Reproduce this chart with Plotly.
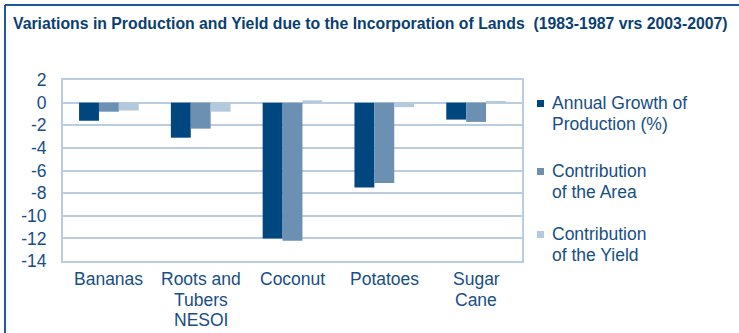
import plotly.graph_objects as go

# Crops and the three measured components (%)
categories = ["Bananas", "Roots and<br>Tubers<br>NESOI", "Coconut", "Potatoes", "Sugar<br>Cane"]
production_growth = [-1.6, -3.1, -12.0, -7.5, -1.5]
area_contribution = [-0.8, -2.3, -12.2, -7.1, -1.7]
yield_contribution = [-0.7, -0.8, 0.2, -0.4, 0.1]

series_names = ["Annual Growth of<br>Production (%)",
                "Contribution<br>of the Area",
                "Contribution<br>of the Yield"]
series_colors = ["#00467f", "#6b90b2", "#b5c9dc"]
y_ticks = [2, 0, -2, -4, -6, -8, -10, -12, -14]

title_text = "Variations in Production and Yield due to the Incorporation of Lands  (1983-1987 vrs 2003-2007)"

W, H = 739, 333
L, R, T, B = 63, 217, 80, 72
PW, PH = W - L - R, H - T - B

def px_x(px):
    return (px - L) / PW

def px_y(py):
    return (H - B - py) / PH

TEXT = "#174e86"
FONT = "Liberation Sans, Arial, Helvetica, sans-serif"

fig = go.Figure()
for name, vals, col in zip(series_names, [production_growth, area_contribution, yield_contribution], series_colors):
    fig.add_trace(go.Bar(x=categories, y=vals, name=name, marker=dict(color=col, line=dict(width=0)),
                         showlegend=False))

fig.update_layout(
    width=W, height=H,
    margin=dict(l=L, r=R, t=T, b=B),
    paper_bgcolor="white", plot_bgcolor="white",
    barmode="group", bargap=0.35, bargroupgap=0,
    font=dict(family=FONT, size=17.5, color=TEXT),
    xaxis=dict(showgrid=False, zeroline=False, showline=True, linecolor="#b9cde0", linewidth=2,
               mirror=True, ticks="", automargin=False, showticklabels=False, fixedrange=True),
    yaxis=dict(range=[-14, 2], tickvals=y_ticks, ticktext=[str(v) for v in y_ticks],
               showgrid=True, gridcolor="#b9cde0", gridwidth=2, zeroline=False,
               showline=True, linecolor="#b9cde0", linewidth=2, mirror=True, automargin=False,
               ticks="", ticklabelstandoff=11, tickfont=dict(size=17.5, color=TEXT)),
)

# Category labels under each group, one line at a time for tighter spacing
cat_line_y = [279, 300, 320]
for cat in categories:
    for i, part in enumerate(cat.split("<br>")):
        fig.add_annotation(text=part, xref="x", yref="paper", x=cat, y=px_y(cat_line_y[i]),
                           xanchor="center", yanchor="middle", showarrow=False,
                           font=dict(family=FONT, size=17.5, color=TEXT))

# Frame along the top and left edges
fig.add_shape(type="line", xref="paper", yref="paper", x0=px_x(5), x1=px_x(W + 5), y0=px_y(5), y1=px_y(5),
              line=dict(color="#1f5a96", width=2))
fig.add_shape(type="line", xref="paper", yref="paper", x0=px_x(5), x1=px_x(5), y0=px_y(5), y1=px_y(H + 5),
              line=dict(color="#1f5a96", width=2))

# Title
fig.add_annotation(text="<b>" + title_text + "</b>", xref="paper", yref="paper",
                   x=px_x(11), y=px_y(24), xanchor="left", yanchor="middle", showarrow=False,
                   font=dict(family=FONT, size=15.8, color="#0b3f74"))

# Legend drawn beside the plot
legend_tops = [103, 171, 234]
line_step = 21
for name, col, y0 in zip(series_names, series_colors, legend_tops):
    fig.add_shape(type="rect", xref="paper", yref="paper",
                  x0=px_x(537), x1=px_x(544), y0=px_y(y0 - 3), y1=px_y(y0 + 4),
                  fillcolor=col, line=dict(width=0))
    for i, part in enumerate(name.split("<br>")):
        fig.add_annotation(text=part, xref="paper", yref="paper", x=px_x(550), y=px_y(y0 + i * line_step),
                           xanchor="left", yanchor="middle", showarrow=False,
                           font=dict(family=FONT, size=17.5, color=TEXT))

fig.write_html("out.html")
